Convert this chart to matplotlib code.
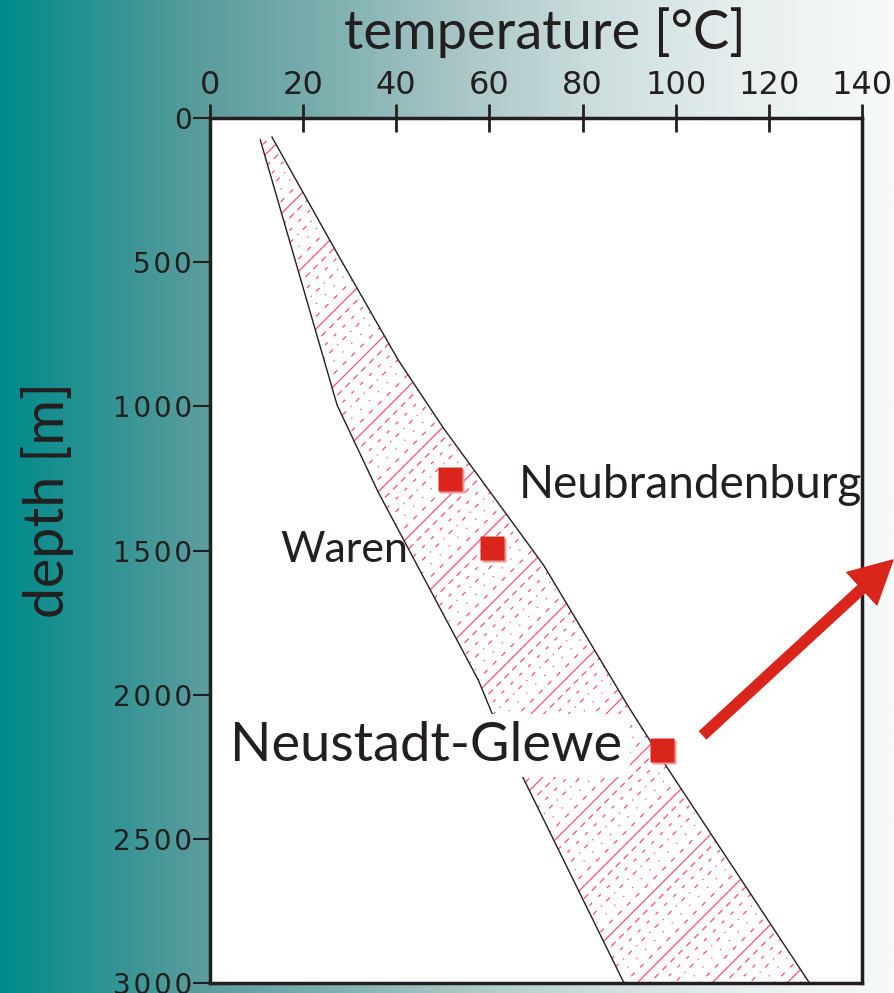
import numpy as np
import matplotlib
matplotlib.use('Agg')
import matplotlib.pyplot as plt
import matplotlib.transforms as mtransforms
from matplotlib.colors import LinearSegmentedColormap
from matplotlib.patches import Polygon
from matplotlib.ticker import FuncFormatter

# DATA - - - - - - - - - - - - - - - - - - - - - - - - - - - - - - - - - - - - -
temp_ticks = [0, 20, 40, 60, 80, 100, 120, 140]
depth_ticks = [0, 500, 1000, 1500, 2000, 2500, 3000]

# warm (right) edge of the temperature band
warm_temp = [13.3, 27.5, 40.4, 50.1, 68.8, 71.6, 89.9, 97.8, 128.6]
warm_depth = [66, 475, 839, 1075, 1488, 1550, 2043, 2244, 2997]

# cool (left) edge of the temperature band
cool_temp = [10.8, 27.3, 36.1, 57.6, 60.9, 68.2, 88.8]
cool_depth = [76, 996, 1297, 1949, 2078, 2320, 2997]

# geothermal sites
site_names = ['Neubrandenburg', 'Waren', 'Neustadt-Glewe']
site_temp = [51.6, 60.6, 97.0]
site_depth = [1252, 1492, 2192]

# COLOURS - - - - - - - - - - - - - - - - - - - - - - - - - - - - - - - - - - -
ink = '#231f20'
red = '#da251d'
pink = '#ff4f72'

fig = plt.figure(figsize=(8.95, 9.93), dpi=100)

# background gradient teal -> white
bg = fig.add_axes([0, 0, 1, 1], zorder=-5)
grad_cmap = LinearSegmentedColormap.from_list('bg', [
    (0.0, '#008a8a'), (0.22, '#5a9c9c'), (0.34, '#76abab'), (0.5, '#a6c4c4'),
    (0.67, '#cddede'), (0.84, '#e8efef'), (1.0, '#f8fafa')])
bg.imshow(np.linspace(0, 1, 512)[None, :], cmap=grad_cmap, aspect='auto',
          extent=[0, 1, 0, 1])
bg.set_axis_off()

ax = fig.add_axes([210/895, 1 - 983/993, 652/895, 865/993])
ax.set_facecolor('white')
ax.set_xlim(0, 140)
ax.set_ylim(3000, 0)

# band polygon used as clip path for hatching
band_pts = np.column_stack([warm_temp + cool_temp[::-1], warm_depth + cool_depth[::-1]])
band = Polygon(band_pts, closed=True, facecolor='none', edgecolor='none')
ax.add_patch(band)

# sparse dashed pink hatching in pixel space, clipped to the band
W = 652.0
H = 865.0
ang = np.deg2rad(45)
step = 12.5
styles = ['-', (0, (4, 6)), (0, (1, 9)), (0, (4, 5, 1, 5)), (0, (3, 7)), (0, (5, 4))]
offsets = np.arange(-W*np.tan(ang), H, step)
for i, c in enumerate(offsets):
    ln, = ax.plot([0, 1], [c/H, (c + W*np.tan(ang))/H], transform=ax.transAxes,
                  color=pink, lw=0.9, ls=styles[i % len(styles)], zorder=1.5)
    ln.set_clip_path(band)

# band edges
ax.plot(warm_temp, warm_depth, color=ink, lw=1.0, zorder=2)
ax.plot(cool_temp, cool_depth, color=ink, lw=1.0, zorder=2)

# site squares with light shadow
shadow = mtransforms.offset_copy(ax.transData, fig=fig, x=2, y=-2, units='dots')
ax.plot(site_temp, site_depth, 's', ms=17, color='#ef9a98', mec='none',
        transform=shadow, zorder=4)
ax.plot(site_temp, site_depth, 's', ms=17, color=red, mec='none', zorder=5)

# site labels
lab_font = 'Lato'
ax.text(66.2, site_depth[0] + 20, site_names[0], fontsize=33, family=lab_font,
        color=ink, ha='left', va='center', zorder=6)
ax.text(42.6, site_depth[1] + 5, site_names[1], fontsize=31, family=lab_font,
        color=ink, ha='right', va='center', zorder=6)
ax.text(88.6, site_depth[2] - 15, site_names[2], fontsize=39, family=lab_font,
        color=ink, ha='right', va='center', zorder=3,
        bbox=dict(facecolor='white', edgecolor='none', pad=5))

# axes styling
for sp in ax.spines.values():
    sp.set_linewidth(2.5)
    sp.set_color(ink)
    sp.set_zorder(7)

ax.xaxis.tick_top()
ax.set_xticks(temp_ticks)
ax.set_yticks(depth_ticks)
ax.tick_params(axis='x', top=True, bottom=False, direction='inout', length=20,
               width=2, pad=2, labelsize=23, colors=ink)
ax.tick_params(axis='y', left=True, right=False, direction='out', length=12,
               width=1.5, pad=1, labelsize=20, colors=ink)
for lbl in ax.get_xticklabels():
    lbl.set_family(['Liberation Sans Narrow', 'DejaVu Sans'])
ax.yaxis.set_major_formatter(FuncFormatter(lambda v, p: '\u200a'.join(str(int(v)))))

fig.text(545/895, 1 - 33/993, 'temperature [°C]', fontsize=39, family=lab_font,
         color=ink, ha='center', va='center')
fig.text(48/895, 1 - 500/993, 'depth [m]', fontsize=40, family=lab_font,
         color=ink, ha='center', va='center', rotation=90)

# red arrow pointing out of the chart
ax.annotate('', xy=(893/895, 1 - 560/993), xytext=(703/895, 1 - 735/993),
            xycoords='figure fraction', textcoords='figure fraction',
            annotation_clip=False,
            arrowprops=dict(arrowstyle='simple,head_length=1.05,head_width=1.1,tail_width=0.25',
                            mutation_scale=29, color=red, shrinkA=0, shrinkB=0),
            zorder=8)

fig.savefig('out.png', dpi=100)
